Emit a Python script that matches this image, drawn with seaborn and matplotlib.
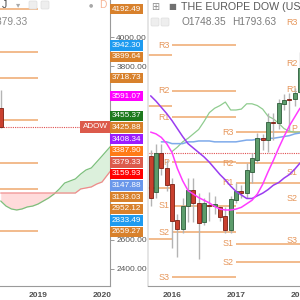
import numpy as np
import pandas as pd
import matplotlib
matplotlib.use("Agg")
import matplotlib.pyplot as plt
import matplotlib.transforms as mtransforms
from matplotlib.patches import FancyBboxPatch
import seaborn as sns

# ---- left chart: ADOW, yearly pivots + projected cloud ----
adow_cloud_months = pd.date_range("2018-06-01", periods=22, freq="MS")
adow_span_a = [2869, 2834, 2814, 2807, 2814, 2828, 2834, 2848, 2869, 2890, 2917,
               2952, 2993, 3007, 3021, 3055, 3083, 3097, 3138, 3179, 3221, 3262]
adow_span_b = [2924, 2924, 2924, 2924, 2924, 2924, 2924, 2924, 2924, 2924, 2924,
               2924, 2924, 2924, 2924, 2952, 2959, 2966, 2986, 3000, 3048, 3095]
adow_last_month = pd.Timestamp("2018-06-01")
adow_last_open, adow_last_high, adow_last_low, adow_last_close = 3510.0, 3634.0, 3372.0, 3379.33
pivot_names = ["R3", "R2", "R1", "P", "S1", "S2", "S3"]
adow_pivots_2018 = [4192.49, 3899.64, 3718.73, 3425.88, 3133.03, 2952.12, 2659.27]
adow_scale_values = [4192.49, 3942.30, 3899.64, 3718.73, 3591.07, 3455.37, 3425.88, 3408.34,
                     3387.90, 3379.33, 3159.93, 3147.88, 3133.03, 2952.12, 2833.49, 2659.27]
adow_scale_colors = ["#d8812c", "#1e9bf0", "#d8812c", "#d8812c", "#ff00ff", "#1d7a1d",
                     "#d8812c", "#9b1cff", "#ff7b17", "#dc5a4b", "#ff0000", "#6a97ea",
                     "#d8812c", "#d8812c", "#1e9bf0", "#d8812c"]
adow_ticks = [2400, 2600, 3800, 4000]
adow_years = [2019, 2020]

# ---- right chart: THE EUROPE DOW (USD), monthly ----
eu_months = pd.date_range("2015-09-01", periods=29, freq="MS")
eu_open = [1676, 1635, 1679, 1663, 1644, 1604, 1593, 1620, 1638, 1623, 1601, 1621, 1620, 1618, 1608,
           1592, 1626, 1636, 1634, 1658, 1672, 1695, 1694, 1714, 1713, 1735, 1740, 1740, 1748.35]
eu_high = [1683, 1690, 1690, 1672, 1651, 1611, 1628, 1651, 1651, 1634, 1628, 1635, 1631, 1620, 1618,
           1631, 1646, 1643, 1668, 1679, 1702, 1701, 1725, 1725, 1740, 1746, 1747, 1753, 1793.63]
eu_low = [1620, 1629, 1654, 1637, 1572, 1562, 1589, 1601, 1601, 1560, 1598, 1603, 1611, 1603, 1589,
          1589, 1623, 1628, 1628, 1646, 1668, 1683, 1680, 1694, 1707, 1728, 1704, 1733, 1746]
eu_close = [1629, 1679, 1663, 1643, 1602, 1593, 1620, 1638, 1623, 1600, 1623, 1619, 1621, 1607, 1592,
            1627, 1637, 1634, 1660, 1674, 1696, 1694, 1714, 1713, 1736, 1739, 1739, 1747, 1776]
eu_blue = [np.nan, np.nan, 1692, 1692, 1690, 1690, 1690, 1692, 1692, 1693, 1693, 1693, 1692, 1692, 1692,
           1692, 1692, 1693, 1694, 1694, 1695, 1695, 1696, 1696, 1697, 1698, 1699, 1701, 1702]
eu_magenta = [1703, 1701, 1697, 1690, 1680, 1662, 1648, 1637, 1633, 1629, 1626, 1623, 1619, 1616, 1615,
              1615, 1616, 1618, 1622, 1626, 1633, 1644, 1658, 1671, 1685, 1698, 1710, 1720, 1730]
eu_purple = [1744, 1738, 1731, 1724, 1716, 1707, 1698, 1690, 1685, 1680, 1675, 1669, 1662, 1655, 1649,
             1642, 1636, 1632, 1628, 1628, 1631, 1634, 1638, 1643, 1646, 1651, 1655, 1661, 1668]
eu_span = [np.nan, np.nan, np.nan, np.nan, 1681, 1686, 1692, 1696, 1701, 1706, 1715, 1725, 1730, 1733,
           1737, 1728, 1728, 1729, 1735, 1735, 1733, 1729, 1721, 1718, 1713, 1707, 1704, 1703, 1703]
eu_ref_level = 1679
eu_pivot_years = [2015, 2016, 2017, 2018]
eu_piv_2015 = [np.nan, 1790, 1732, np.nan, 1640, 1582, np.nan]
eu_piv_2016 = [1801, 1750, 1720, 1669, 1620, 1590, 1539]
eu_piv_2017 = [1703, 1668, 1646, 1612, 1577, 1556, 1521]
eu_piv_2018 = [1827, 1780, 1751, 1707, 1657, 1628, 1581]
eu_years = [2016, 2017, 2018]


def to_year(d):
    d = pd.DatetimeIndex(np.atleast_1d(d))
    return np.asarray(d.year + (d.month - 1) / 12.0)


PIV = "#efa86e"
PIV_TXT = "#e6965a"
UP, UP_EDGE = "#5c9c6b", "#2d5b39"
DN, DN_EDGE = "#c9402e", "#7c1e12"
WICK = "#b4b4b4"


def candles(ax, x, o, h, l, c, width):
    o, h, l, c = (np.asarray(v, dtype=float) for v in (o, h, l, c))
    up = c >= o
    ax.vlines(x, l, h, color=WICK, lw=1.0, zorder=3)
    bottom = np.minimum(o, c)
    span = ax.get_ylim()[1] - ax.get_ylim()[0]
    height = np.maximum(np.abs(c - o), span * 0.006)
    ax.bar(x[up], height[up], width, bottom[up], color=UP, edgecolor=UP_EDGE, lw=0.6, zorder=4)
    ax.bar(x[~up], height[~up], width, bottom[~up], color=DN, edgecolor=DN_EDGE, lw=0.6, zorder=4)


sns.set_theme(style="white")
plt.rcParams["font.family"] = ["Liberation Sans", "DejaVu Sans"]

W = H = 300
fig = plt.figure(figsize=(3, 3), dpi=100)


def px_axes(x0, y0, x1, y1):
    return fig.add_axes([x0 / W, 1 - y1 / H, (x1 - x0) / W, (y1 - y0) / H])


axl = px_axes(0, 0, 110, 286)
axr = px_axes(148, 0, 300, 286)

# ---------------- left ----------------
axl.set_xlim(2018.406, 2020.125)
axl.set_ylim(2282.7, 4255.2)
cx = to_year(adow_cloud_months)
a = np.array(adow_span_a, float)
b = np.array(adow_span_b, float)
axl.fill_between(cx, a, b, where=a < b, interpolate=True, color="#ffd3d3", alpha=0.8, lw=0, zorder=1)
axl.fill_between(cx, a, b, where=a >= b, interpolate=True, color="#d9efd9", alpha=0.9, lw=0, zorder=1)
sns.lineplot(x=cx, y=a, ax=axl, color="#7cc07c", lw=0.9, estimator=None, sort=False, zorder=2)
sns.lineplot(x=cx, y=b, ax=axl, color="#f08a8a", lw=0.9, estimator=None, sort=False, zorder=2)
for lvl in adow_pivots_2018:
    axl.hlines(lvl, 2018.0, 2019.0, color=PIV, lw=1.1, zorder=2)
lx = to_year(adow_last_month)
candles(axl, lx, [adow_last_open], [adow_last_high], [adow_last_low], [adow_last_close], 0.07)
axl.hlines(adow_last_close, 2018.3, 2020.2, color="#e05050", lw=0.8, ls=(0, (1, 1)), zorder=2)

trl = mtransforms.blended_transform_factory(axl.transAxes, axl.transData)
axl.text(1 - 2.5 / 110, adow_last_close, "ADOW", transform=trl, ha="right", va="center",
         color="white", fontsize=5.9, zorder=6,
         bbox=dict(boxstyle="square,pad=0.25", fc="#dc5a4b", ec="none"))

# price scale labels, stacked downwards like the platform does
px_per_unit = 286 / (4255.2 - 2282.7)
step = 11.6 / px_per_unit
prev = None
for v, col in zip(adow_scale_values, adow_scale_colors):
    y = v if prev is None else min(v, prev - step)
    prev = y
    axl.text(1 + 2 / 110, y, f"{v:.2f}", transform=trl, ha="left", va="center",
             color="white", fontsize=5.9, zorder=6, clip_on=False,
             bbox=dict(boxstyle="square,pad=0.2", fc=col, ec="none"))

axl.yaxis.tick_right()
axl.set_yticks(adow_ticks)
axl.set_yticklabels([f"{t:.2f}" for t in adow_ticks])
axl.set_xticks(adow_years)
axl.set_xticklabels([str(y) for y in adow_years])

# ---------------- right ----------------
axr.set_xlim(2015.625, 2018.0)
axr.set_ylim(1529.1, 1852.3)
ylo, yhi = axr.get_ylim()
for year, levels in zip(eu_pivot_years, [eu_piv_2015, eu_piv_2016, eu_piv_2017, eu_piv_2018]):
    for name, lvl in zip(pivot_names, levels):
        if np.isnan(lvl):
            continue
        axr.hlines(lvl, year, year + 1, color=PIV, lw=1.1, zorder=2)
        if year > 2015.7 and ylo + 8 < lvl < yhi:
            axr.annotate(name, (year, lvl), xytext=(-1.8, 0), textcoords="offset points",
                         ha="right", va="center", color=PIV_TXT, fontsize=6.4, zorder=2,
                         annotation_clip=False)

mx = to_year(eu_months)
axr.hlines(eu_ref_level, 2015.5, 2018.1, color="#e05050", lw=0.8, ls=(0, (1, 1)), zorder=2)
sns.lineplot(x=mx, y=eu_span, ax=axr, color="#8fcc8f", lw=0.9, estimator=None, sort=False, zorder=2.5)
sns.lineplot(x=mx, y=eu_blue, ax=axr, color="#7eaaea", lw=1.1, estimator=None, sort=False, zorder=2.5)
candles(axr, mx, eu_open, eu_high, eu_low, eu_close, 0.058)
sns.lineplot(x=mx, y=eu_purple, ax=axr, color="#9a3cf0", lw=1.1, estimator=None, sort=False, zorder=5)
sns.lineplot(x=mx, y=eu_magenta, ax=axr, color="#ff3cff", lw=1.1, estimator=None, sort=False, zorder=5)
axr.set_yticks([])
axr.set_xticks(eu_years)
axr.set_xticklabels([str(y) for y in eu_years])

for ax in (axl, axr):
    ax.set_xlabel("")
    ax.set_ylabel("")
    ax.set_facecolor("white")
    for s in ("top", "left", "right", "bottom"):
        ax.spines[s].set_visible(False)
    ax.spines["bottom"].set_visible(True)
    ax.spines["bottom"].set_color("#9a9a9a")
    ax.spines["bottom"].set_linewidth(0.8)
    ax.tick_params(axis="x", length=3, width=0.7, color="#9a9a9a", pad=1.5,
                   labelsize=6, labelcolor="#505050")
    for t in ax.get_xticklabels():
        t.set_fontweight("bold")
axl.spines["right"].set_visible(True)
axl.spines["right"].set_color("#9a9a9a")
axl.spines["right"].set_linewidth(0.8)
axl.tick_params(axis="y", length=3, width=0.7, color="#9a9a9a", pad=1.5,
                labelsize=6, labelcolor="#555555", right=True, left=False)
axr.spines["left"].set_visible(True)
axr.spines["left"].set_color("#e2e2e2")

# ---------------- header texts ----------------
def ftext(x, y, s, **kw):
    fig.text(x / W, 1 - y / H, s, va="center", **kw)


def icon_box(x, y, w, h):
    fig.patches.append(FancyBboxPatch((x / W, 1 - (y + h) / H), w / W, h / H,
                                      boxstyle="round,pad=0,rounding_size=0.004",
                                      transform=fig.transFigure, fc="#eeeeee", ec="#dddddd",
                                      lw=0.5, zorder=7))


ftext(2, 5, "J", color="#444444", fontsize=7.5)
ftext(16, 5, "\u25be", color="#aaaaaa", fontsize=6, family=["DejaVu Sans"])
icon_box(29, 1, 8, 8)
icon_box(41, 1, 8, 8)
ftext(89, 5, "\u25cf", color="#a8a8a8", fontsize=3.5, family=["DejaVu Sans"])
ftext(99, 5, "D", color="#f7b596", fontsize=7.3)
ftext(28, 22, "C3379.33", color="#8a8a8a", fontsize=7.3, ha="right")

ftext(151, 7, "\u229e", color="#8a8a8a", fontsize=7, family=["DejaVu Sans"])
ftext(168, 7, "\u25a0", color="#707070", fontsize=6, family=["DejaVu Sans"])
ftext(181, 7, "THE EUROPE DOW (USD)", color="#5a5a5a", fontsize=7.7)
icon_box(151, 18, 8, 8)
icon_box(161, 18, 8, 8)
ftext(182, 22, "O1748.35", color="#7a7a7a", fontsize=7.3)
ftext(232, 22, "H1793.63", color="#7a7a7a", fontsize=7.3)

fig.savefig("out.png", dpi=100, facecolor="white")
